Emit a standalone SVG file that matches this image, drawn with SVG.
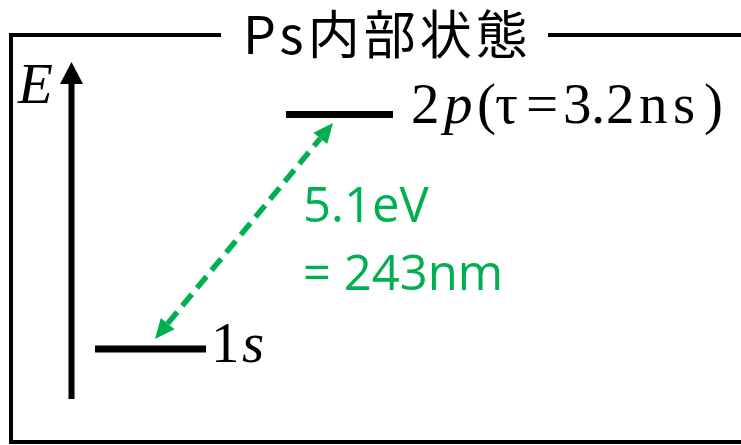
<svg xmlns="http://www.w3.org/2000/svg" width="741" height="445" viewBox="0 0 741 445">
<style>
.ser{font-family:"Liberation Serif","DejaVu Serif",serif;font-size:57px;fill:#000}
.it{font-style:italic}
.grn{font-family:"Open Sans","Liberation Sans",sans-serif;font-size:49px;fill:#00B050}
.ttl{font-family:"Noto Sans CJK JP","Noto Sans",sans-serif;font-size:52px;fill:#000;letter-spacing:4px}
.lvl{stroke:#000;stroke-width:7;fill:none}
.frm{stroke:#000;stroke-width:4;fill:none}
.gl{stroke:#00B050;stroke-width:5.5;stroke-dasharray:15 8;fill:none}
.gh{fill:#00B050}
</style>
<g id="frame">
<path class="frm" d="M221 35 H11 V442 H745"/>
<path class="frm" d="M548 35 H745"/>
</g>
<g id="title">
<text class="ttl" x="243" y="54">Ps内部状態</text>
</g>
<g id="energy-axis">
<line x1="71.5" y1="399" x2="71.5" y2="80" stroke="#000" stroke-width="6"/>
<polygon points="71.5,62 60,84 83,84" fill="#000"/>
<text class="ser it" x="18" y="103">E</text>
</g>
<g id="level-2p">
<line class="lvl" x1="286" y1="114.5" x2="393" y2="114.5"/>
<text class="ser" y="123"><tspan x="411">2</tspan><tspan class="it" x="444">p</tspan><tspan x="477">(</tspan><tspan x="495">τ</tspan><tspan x="526">=</tspan><tspan x="563">3</tspan><tspan x="591">.</tspan><tspan x="606">2</tspan><tspan x="639">n</tspan><tspan x="673">s</tspan><tspan x="704">)</tspan></text>
</g>
<g id="level-1s">
<line class="lvl" x1="95" y1="349" x2="206" y2="349"/>
<text class="ser" y="362"><tspan x="211">1</tspan><tspan class="it" x="242">s</tspan></text>
</g>
<g id="transition-label">
<text class="grn" x="303" y="222">5.1eV</text>
<text class="grn" x="303" y="290">= 243nm</text>
</g>
<g id="connectors">
<line class="gl" x1="167.7" y1="323.6" x2="320.3" y2="138.4"/>
<polygon class="gh" points="333,123 327.2,144.1 313.4,132.7"/>
<polygon class="gh" points="155,339 174.6,329.3 160.8,317.9"/>
</g>
</svg>
